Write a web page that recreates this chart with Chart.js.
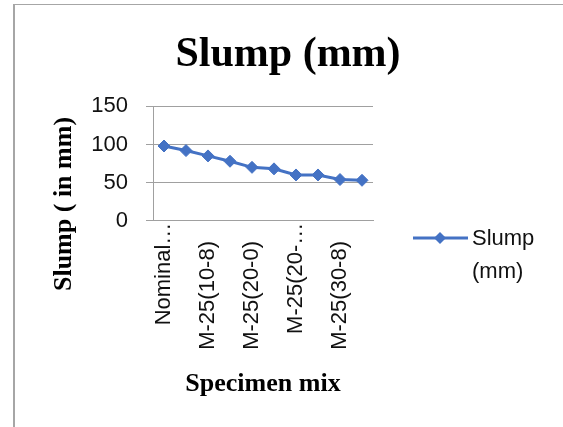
<!DOCTYPE html>
<html>
<head>
<meta charset="utf-8">
<script src="https://cdn.jsdelivr.net/npm/chart.js@4"></script>
<style>
  body { margin: 0; background: #fff; overflow: hidden; }
  #wrap { position: relative; width: 563px; height: 427px; }
  #frame { position: absolute; left: 13px; top: 4px; width: 600px; height: 500px;
           border-left: 2px solid #a6a6a6; border-top: 1px solid #a6a6a6; }
  #Chart1 { position: absolute; left: 0; top: 0; }
</style>
</head>
<body>
<div id="wrap">
  <div id="frame"></div>
  <canvas id="Chart1"></canvas>
</div>
<script>
// chart data
const categories = ['Nominal mix', 'M-25(10-0)', 'M-25(10-8)', 'M-25(10-16)', 'M-25(20-0)',
  'M-25(20-8)', 'M-25(20-16)', 'M-25(30-0)', 'M-25(30-8)', 'M-25(30-16)'];
const slump = [98, 92, 85, 78, 70, 68, 60, 60, 54, 53];
const tickLabels = ['Nominal…', '', 'M-25(10-8)', '', 'M-25(20-0)', '', 'M-25(20-…', '', 'M-25(30-8)', ''];
const seriesName = ['Slump', '(mm)'];
const yTitle = 'Slump ( in mm)';

const blue = '#4472C4';
const gridColor = '#a0a0a0';
const sans = 'Liberation Sans';
const serif = 'Liberation Serif';

// y title + legend drawn by hand (excel puts them where chart.js won't)
const extras = {
  id: 'extras',
  afterDraw(chart) {
    const c = chart.ctx;
    const area = chart.chartArea;
    c.save();

    // y axis title
    c.translate(64, 204);
    c.rotate(-Math.PI / 2);
    c.fillStyle = '#000';
    c.font = 'bold 26px "' + serif + '"';
    c.textAlign = 'center';
    c.textBaseline = 'middle';
    c.fillText(yTitle, 0, 0);
    c.setTransform(1, 0, 0, 1, 0, 0);

    // legend
    const x0 = area.right + 40;
    const y0 = 238;
    c.strokeStyle = blue;
    c.lineWidth = 3;
    c.beginPath();
    c.moveTo(x0, y0);
    c.lineTo(x0 + 55, y0);
    c.stroke();
    c.fillStyle = blue;
    c.beginPath();
    c.moveTo(x0 + 27, y0 - 6);
    c.lineTo(x0 + 33, y0);
    c.lineTo(x0 + 27, y0 + 6);
    c.lineTo(x0 + 21, y0);
    c.closePath();
    c.fill();
    c.fillStyle = '#111';
    c.font = '22px "' + sans + '"';
    c.textAlign = 'left';
    c.textBaseline = 'alphabetic';
    c.fillText(seriesName[0], x0 + 59, 245);
    c.fillText(seriesName[1], x0 + 59, 278);
    c.restore();
  }
};

const ctx = document.getElementById('Chart1');
const config = {
  type: 'line',
  data: {
    labels: categories,
    datasets: [{
      label: seriesName.join(' '),
      data: slump,
      borderColor: blue,
      backgroundColor: blue,
      borderWidth: 3,
      tension: 0,
      pointStyle: 'rectRot',
      pointRadius: 6,
      pointBorderWidth: 1,
      pointBackgroundColor: blue,
      pointBorderColor: blue
    }]
  },
  options: {
    responsive: true,
    maintainAspectRatio: false,
    animation: false,
    layout: { padding: { top: 0, left: 13, right: 0, bottom: 27 } },
    plugins: {
      legend: { display: false },
      tooltip: { enabled: false },
      title: {
        display: true,
        text: 'Slump (mm)',
        color: '#000',
        font: { family: serif, size: 42, weight: 'bold' },
        padding: { top: 30, bottom: 26 }
      }
    },
    scales: {
      x: {
        offset: true,
        grid: { display: false, drawTicks: false },
        border: { display: true, color: gridColor },
        ticks: {
          autoSkip: false,
          minRotation: 90,
          maxRotation: 90,
          padding: 2,
          color: '#111',
          font: { family: sans, size: 22 },
          // excel pushes the un-truncated labels a bit further from the axis
          callback: (v, i) => {
            const t = tickLabels[i];
            return (t && !t.endsWith('…')) ? t + '   ' : t;
          }
        },
        title: {
          display: true,
          text: 'Specimen mix',
          color: '#000',
          font: { family: serif, size: 26, weight: 'bold' },
          padding: { top: 17, bottom: 0 }
        }
      },
      y: {
        min: 0,
        max: 150,
        afterFit: (s) => { s.width = 140; },
        grid: { color: gridColor, tickLength: 7, tickColor: gridColor },
        border: { display: true, color: gridColor },
        ticks: {
          stepSize: 50,
          padding: 18,
          color: '#111',
          font: { family: sans, size: 22 }
        }
      },
      // empty right-hand box that keeps room for the legend
      side: {
        position: 'right',
        afterFit: (s) => { s.width = 190; },
        grid: { display: false },
        border: { display: false },
        ticks: { display: false }
      }
    }
  },
  plugins: [extras]
};

const myChart = new Chart(ctx, config);
</script>
</body>
</html>
